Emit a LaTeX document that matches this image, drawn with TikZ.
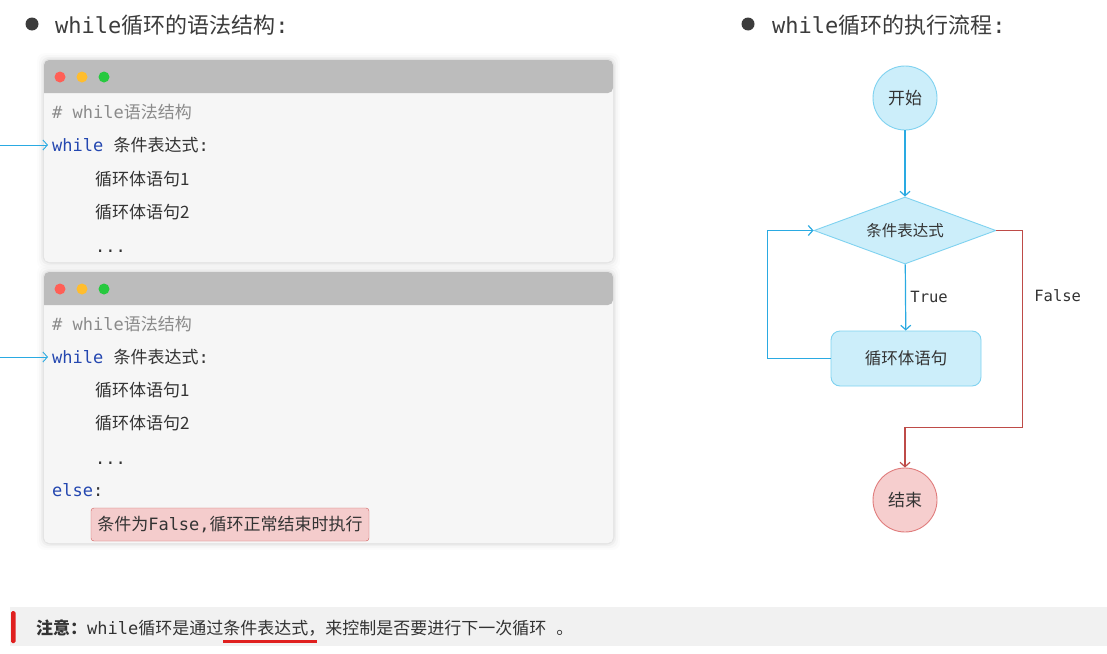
\documentclass[tikz,border=0pt]{standalone}
\usepackage{fontspec}
\setmainfont{Noto Sans CJK SC}
\setmonofont{DejaVu Sans Mono}
\usetikzlibrary{shapes.geometric,arrows.meta,positioning}

\definecolor{titlegray}{HTML}{3C3C3C}
\definecolor{barfill}{HTML}{BCBCBC}
\definecolor{codebg}{HTML}{F6F6F6}
\definecolor{codetext}{HTML}{333333}
\definecolor{commentgray}{HTML}{8A8A8A}
\definecolor{kwblue}{HTML}{2447B0}
\definecolor{dotred}{HTML}{FF5F56}
\definecolor{dotyellow}{HTML}{FFBD2E}
\definecolor{dotgreen}{HTML}{27C93F}
\definecolor{flowblue}{HTML}{2AAAE2}
\definecolor{flowfill}{HTML}{CCEEFA}
\definecolor{flowedge}{HTML}{7FD2F0}
\definecolor{flowred}{HTML}{BE4B48}
\definecolor{stopfill}{HTML}{F6CECE}
\definecolor{stopedge}{HTML}{E07C7C}
\definecolor{hintfill}{HTML}{F4CCCC}
\definecolor{hintedge}{HTML}{D0605E}
\definecolor{noteband}{HTML}{F1F1F1}
\definecolor{notered}{HTML}{E0201F}

\newcommand\fsz[1]{\fontsize{#1pt}{#1pt}\selectfont}
\newcommand\kw[1]{\textcolor{kwblue}{\texttt{#1}}}

\begin{document}
\begin{tikzpicture}[x=1pt, y=-1pt, >={Straight Barb[length=4.5pt,width=10pt]},
  title/.style={anchor=west, inner sep=0pt, text=titlegray, font=\fsz{22}},
  code/.style={anchor=west, inner sep=0pt, text=codetext, font=\fsz{17},
    text height=15pt, text depth=2pt},
  flownode/.style={draw=flowedge, fill=flowfill, line width=0.9pt, text=codetext, inner sep=0pt},
  flowline/.style={draw=flowblue, line width=1.2pt, ->},
  falseline/.style={draw=flowred, line width=1.2pt, ->}]

  \useasboundingbox (0,0) rectangle (1107,653);
  \fill[white] (0,0) rectangle (1107,653);

  % headings
  \fill[titlegray] (32,24) circle (6.5);
  \node[title] (head1) at (55,25) {\texttt{while}循环的语法结构\texttt{:}};
  \fill[titlegray] (748,24) circle (6.5);
  \node[title] (head2) at (772,25) {\texttt{while}循环的执行流程\texttt{:}};

  % code windows with soft shadow
  \foreach \top/\bot in {60/262, 272/543} {
    \foreach \d/\op in {7/0.012, 5/0.02, 3/0.03, 1.5/0.045}
      \fill[black, opacity=\op, rounded corners=8pt] (44-\d,\top-\d) rectangle (613+\d,\bot+\d);
    \fill[codebg, rounded corners=5pt] (44,\top) rectangle (613,\bot);
    \fill[barfill] (44,\top+33) [rounded corners=5pt] |- (613,\top) -- (613,\top+33) [sharp corners] -- cycle;
    \fill[dotred] (60,\top+17) circle (5.5);
    \fill[dotyellow] (82,\top+17) circle (5.5);
    \fill[dotgreen] (104,\top+17) circle (5.5);
  }

  % first window
  \node[code, text=commentgray] (c1note) at (52,112) {\texttt{\# while}语法结构};
  \node[code] (c1while) at (52,145) {\kw{while}\texttt{ }条件表达式\texttt{:}};
  \node[code] (c1body1) at (95,179) {循环体语句1};
  \node[code] (c1body2) at (95,212) {循环体语句2};
  \node[code] (c1dots) at (95,246) {\texttt{...}};

  % second window
  \node[code, text=commentgray] (c2note) at (52,324) {\texttt{\# while}语法结构};
  \node[code] (c2while) at (52,357) {\kw{while}\texttt{ }条件表达式\texttt{:}};
  \node[code] (c2body1) at (95,390) {循环体语句1};
  \node[code] (c2body2) at (95,423) {循环体语句2};
  \node[code] (c2dots) at (95,458) {\texttt{...}};
  \node[code] (c2else) at (52,490) {\kw{else}\texttt{:}};
  \node[code, anchor=center, draw=hintedge, fill=hintfill, rounded corners=3pt,
    text height=, text depth=, minimum width=278pt, minimum height=33pt] (c2hint) at (230,524.5)
    {条件为\texttt{False,}循环正常结束时执行};

  % pointers into the code
  \coordinate (in1) at (0,145);
  \coordinate (in2) at (0,357);
  \draw[flowblue, line width=0.9pt, ->, shorten >=4pt] (in1) -- (c1while.west);
  \draw[flowblue, line width=0.9pt, ->, shorten >=4pt] (in2) -- (c2while.west);

  % flow chart
  \node[flownode, circle, minimum size=64pt, font=\fsz{17}] (start) at (905,98) {开始};
  \node[flownode, diamond, aspect=2.7, minimum width=182pt, minimum height=67pt,
    font=\fsz{15.5}] (cond) at (905,230.5) {条件表达式};
  \node[flownode, rounded corners=9pt, minimum width=150pt, minimum height=55pt,
    font=\fsz{16.5}] (body) at (906,358.5) {循环体语句};
  \node[flownode, circle, draw=stopedge, fill=stopfill, minimum size=64pt,
    font=\fsz{17}] (stop) at (905,500) {结束};

  \draw[flowline] (start) -- (cond);
  \draw[flowline] (cond) -- node[right=1pt, text=codetext, font=\ttfamily\fsz{15.5}] {True} (body);
  \draw[flowline] (body.west) -- ++(-63,0) |- (cond.west);
  \draw[falseline] (cond.east) -- ++(26,0)
    -- node[pos=0.33, right=8pt, text=codetext, font=\ttfamily\fsz{15.5}] {False} ++(0,197)
    -| (stop.north);

  % note at the bottom
  \fill[noteband] (10,607) rectangle (1107,646);
  \fill[notered, rounded corners=1.5pt] (11,611) rectangle (15.5,643);
  \node[anchor=west, inner sep=0pt, text=codetext, font=\fsz{17}] (note) at (36,628)
    {\textbf{注意：}\texttt{while}循环是通过条件表达式，来控制是否要进行下一次循环\hspace{10pt}。};
  \draw[notered, line width=3pt] (223,641) -- (317,641);
\end{tikzpicture}
\end{document}
